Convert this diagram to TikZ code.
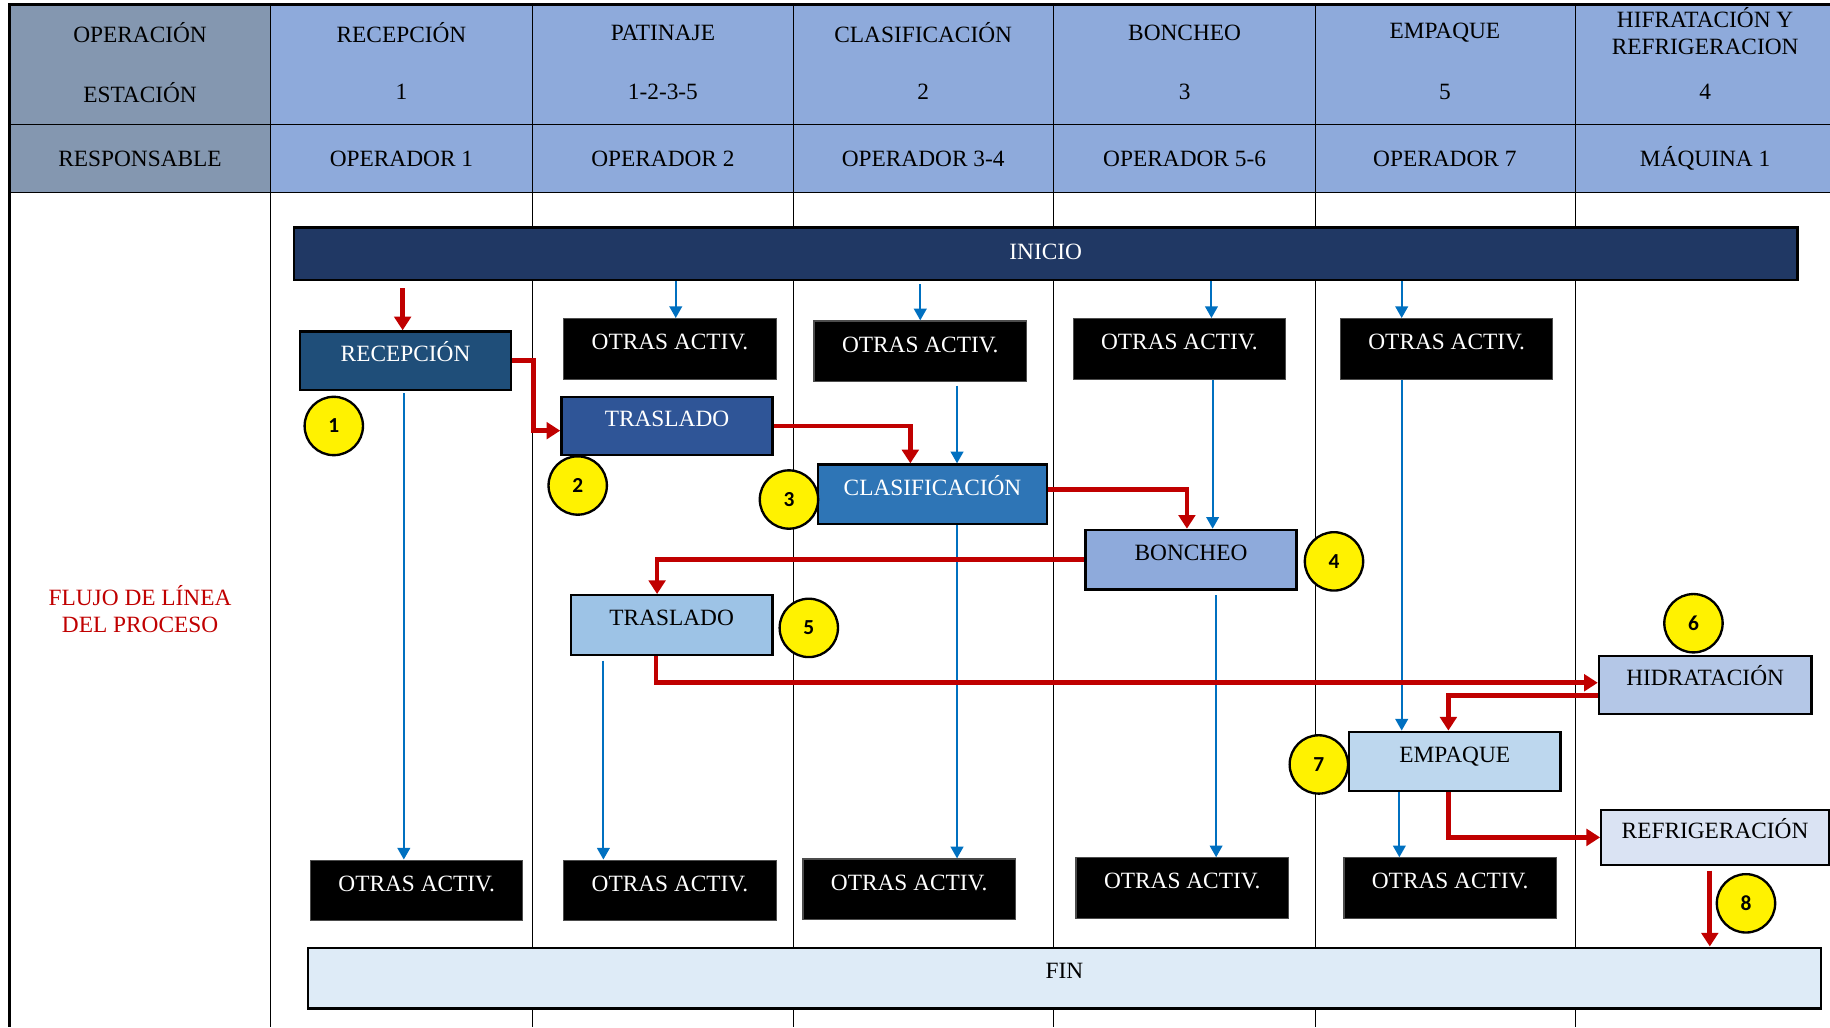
\documentclass[tikz,border=0pt]{standalone}
\usepackage{fontspec}
\setmainfont{Liberation Serif}
\newfontfamily\numfont{Carlito}
\usetikzlibrary{arrows.meta,calc}
\definecolor{hdrA}{HTML}{8497B0}
\definecolor{hdrB}{HTML}{8EAADB}
\definecolor{navy}{HTML}{203864}
\definecolor{recc}{HTML}{1F4E79}
\definecolor{tronec}{HTML}{2F5597}
\definecolor{clac}{HTML}{2E75B6}
\definecolor{bonc}{HTML}{8EAADB}
\definecolor{trtwoc}{HTML}{9DC3E6}
\definecolor{hidc}{HTML}{B4C7E7}
\definecolor{empc}{HTML}{BDD7EE}
\definecolor{refc}{HTML}{DAE3F3}
\definecolor{finc}{HTML}{DEEBF7}
\definecolor{redc}{HTML}{C00000}
\definecolor{bluc}{HTML}{0070C0}
\begin{document}
\begin{tikzpicture}[x=0.6pt,y=-0.6pt,
  every node/.style={font=\fontsize{12}{13.8}\selectfont},
  sz/.style 2 args={minimum width=#1*0.6pt,minimum height=#2*0.6pt},
  flow/.style={draw=black,line width=1.2pt,inner sep=0pt,text height=8.2pt,text depth=7.4pt},
  otras/.style={flow,fill=black,draw=black!70,line width=0.6pt,text=white,sz={182}{52}},
  num/.style={circle,draw=black,line width=1.2pt,fill=yellow,minimum size=30pt,inner sep=0pt,font=\numfont\bfseries\fontsize{11}{13}\selectfont},
  rd/.style={draw=redc,line width=2.4pt,-{Triangle[length=7pt,width=8.5pt]}},
  bl/.style={draw=bluc,line width=1pt,-{Triangle[length=6pt,width=6.5pt]}},
  grid/.style={draw=black,line width=0.5pt}
]
\useasboundingbox (0,0) rectangle (1568,880);
% header
\fill[hdrA] (8,5) rectangle (232,165);
\fill[hdrB] (232,5) rectangle (1568,165);
\foreach \x in {232,456,680,903,1127,1350} \draw[grid] (\x,5) -- (\x,880);
\draw[grid] (8,107) -- (1568,107);
\draw[draw=black,line width=0.9pt] (8,165) -- (1568,165);
\draw[draw=black,line width=1.8pt] (7,4) -- (1568,4);
\draw[draw=black,line width=1.8pt] (8,3) -- (8,880);

\node (hop) at (120,28) {OPERACIÓN};
\node (hes) at (120,79) {ESTACIÓN};
\node (hre) at (120,136) {RESPONSABLE};
\node (c1a) at (344,28) {RECEPCIÓN};
\node (c1b) at (344,79) {1};
\node (c1c) at (344,136) {OPERADOR 1};
\node (c2a) at (568,28) {PATINAJE};
\node (c2b) at (568,79) {1-2-3-5};
\node (c2c) at (568,136) {OPERADOR 2};
\node (c3a) at (791,28) {CLASIFICACIÓN};
\node (c3b) at (791,79) {2};
\node (c3c) at (791,136) {OPERADOR 3-4};
\node (c4a) at (1015,28) {BONCHEO};
\node (c4b) at (1015,79) {3};
\node (c4c) at (1015,136) {OPERADOR 5-6};
\node (c5a) at (1238,28) {EMPAQUE};
\node (c5b) at (1238,79) {5};
\node (c5c) at (1238,136) {OPERADOR 7};
\node[align=center] (c6a) at (1461,27) {HIFRATACIÓN Y\\REFRIGERACION};
\node (c6b) at (1461,79) {4};
\node (c6c) at (1461,136) {MÁQUINA 1};

\node[text=redc,align=center] (flujo) at (120,522) {FLUJO DE LÍNEA\\DEL PROCESO};

% flow boxes
\node[flow,fill=navy,text=white,sz={1288}{45},text depth=2pt] (inicio) at (896,217.5) {INICIO};
\node[flow,fill=recc,text=white,sz={181}{50}] (recep) at (347.5,309) {RECEPCIÓN};
\node[otras] (oa2t) at (574,299) {OTRAS ACTIV.};
\node[otras] (oa3t) at (788.5,301) {OTRAS ACTIV.};
\node[otras] (oa4t) at (1010.5,299) {OTRAS ACTIV.};
\node[otras] (oa5t) at (1239.5,299) {OTRAS ACTIV.};
\node[flow,fill=tronec,text=white,sz={181}{50}] (tras1) at (571.5,365) {TRASLADO};
\node[flow,fill=clac,text=white,sz={196}{51}] (clas) at (799,423.5) {CLASIFICACIÓN};
\node[flow,fill=bonc,sz={181}{51}] (bonch) at (1020.5,479.5) {BONCHEO};
\node[flow,fill=trtwoc,sz={173}{51}] (tras2) at (575.5,535.5) {TRASLADO};
\node[flow,fill=hidc,sz={182}{50}] (hidr) at (1461,587) {HIDRATACIÓN};
\node[flow,fill=empc,sz={181}{51}] (empa) at (1246.5,652.5) {EMPAQUE};
\node[flow,fill=refc,sz={195}{47}] (refr) at (1469.5,717.5) {REFRIGERACIÓN};
\node[otras] (oa1b) at (357,763) {OTRAS ACTIV.};
\node[otras] (oa2b) at (574,763) {OTRAS ACTIV.};
\node[otras] (oa3b) at (779,762) {OTRAS ACTIV.};
\node[otras] (oa4b) at (1013,761) {OTRAS ACTIV.};
\node[otras] (oa5b) at (1242.5,761) {OTRAS ACTIV.};
\node[flow,fill=finc,sz={1296}{52}] (fin) at (912,838) {FIN};

% number circles
\node[num] (n1) at (286,365) {1};
\node[num] (n2) at (495,416) {2};
\node[num] (n3) at (676,428) {3};
\node[num] (n4) at (1143,481) {4};
\node[num] (n5) at (693,538) {5};
\node[num] (n6) at (1451,534) {6};
\node[num] (n7) at (1130,655) {7};
\node[num] (n8) at (1496,774) {8};

% blue connectors
\coordinate (b2) at ($(oa2t.north)+(5,0)$);
\draw[bl] (b2 |- inicio.south) -- (b2);
\draw[bl] ($(oa3t.north)+(0,-31)$) -- (oa3t.north);
\coordinate (b4) at ($(oa4t.north)+(27.5,0)$);
\draw[bl] (b4 |- inicio.south) -- (b4);
\coordinate (b5) at ($(oa5t.north)+(-38.5,0)$);
\draw[bl] (b5 |- inicio.south) -- (b5);
\coordinate (d1) at ($(recep.south)+(-1.5,2)$);
\draw[bl] (d1) -- (d1 |- oa1b.north);
\coordinate (d3) at ($(oa3t.south)+(31.5,3)$);
\draw[bl] (d3) -- (d3 |- clas.north);
\coordinate (d4) at ($(oa4t.south)+(28.5,0)$);
\draw[bl] (d4) -- (d4 |- bonch.north);
\coordinate (d5) at ($(oa5t.south)+(-38.5,0)$);
\draw[bl] (d5) -- (d5 |- empa.north);
\coordinate (e2) at ($(tras2.south)+(-58.5,4)$);
\draw[bl] (e2) -- (e2 |- oa2b.north);
\coordinate (e3) at ($(clas.south)+(21,0)$);
\draw[bl] (e3) -- (e3 |- oa3b.north);
\coordinate (e4) at ($(bonch.south)+(21.5,4)$);
\draw[bl] (e4) -- (e4 |- oa4b.north);
\coordinate (e5) at ($(empa.south)+(-47.5,0)$);
\draw[bl] (e5) -- (e5 |- oa5b.north);

% red connectors
\coordinate (s0) at ($(recep.north)+(-2.5,-36)$);
\draw[rd] (s0) -- (s0 |- recep.north);
\draw[rd] (recep.east) -- ++(18,0) |- ($(tras1.west)+(0,4)$);
\draw[rd] (tras1.east) -| ($(clas.north)+(-19,0)$);
\draw[rd] ($(clas.east)+(0,-4)$) -| ($(bonch.north)+(-3.5,0)$);
\draw[rd] (bonch.west) -| ($(tras2.north)+(-12.5,0)$);
\draw[rd] ($(tras2.south)+(-13.5,0)$) |- ($(hidr.west)+(0,-2)$);
\draw[rd] ($(hidr.west)+(0,9)$) -| ($(empa.north)+(-5.5,0)$);
\draw[rd] ($(empa.south)+(-5.5,0)$) |- (refr.west);
\coordinate (r8) at ($(refr.south)+(-4.5,4)$);
\draw[rd] (r8) -- (r8 |- fin.north);
\end{tikzpicture}
\end{document}
